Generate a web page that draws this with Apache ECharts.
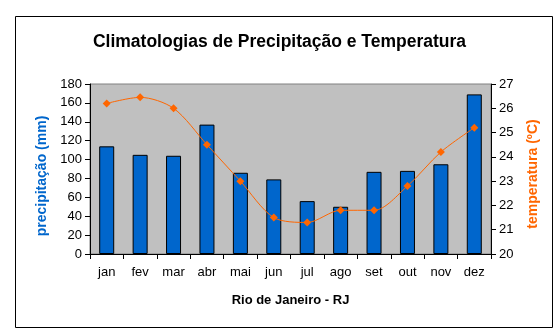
<!DOCTYPE html>
<html>
<head>
<meta charset="utf-8">
<script src="https://cdn.jsdelivr.net/npm/echarts@6/dist/echarts.min.js"></script>
<style>
html,body{margin:0;padding:0;background:#fff;}
#c{width:559px;height:335px;}
</style>
</head>
<body>
<div id="c"></div>
<script>
const months = ['jan','fev','mar','abr','mai','jun','jul','ago','set','out','nov','dez'];
const precip = [114, 105, 104, 137, 86, 79, 56, 50, 87, 88, 95, 169];
const temp = [26.2, 26.45, 26.0, 24.5, 23.0, 21.5, 21.3, 21.8, 21.8, 22.8, 24.2, 25.2];
const titleText = 'Climatologias de Precipitação e Temperatura';
const xName = 'Rio de Janeiro - RJ';
const yLeftName = 'precipitação (mm)';
const yRightName = 'temperatura (ºC)';

const FONT = '"Liberation Sans", Arial, sans-serif';
const chart = echarts.init(document.getElementById('c'), null, {renderer: 'canvas'});
chart.setOption({
  animation: false,
  backgroundColor: '#ffffff',
  title: {
    text: titleText,
    left: 'center',
    top: 28,
    textStyle: {fontFamily: FONT, fontSize: 17.5, fontWeight: 'bold', color: '#000'}
  },
  graphic: [{
    type: 'rect',
    shape: {x: 15.5, y: 16.5, width: 537, height: 311},
    style: {fill: 'none', stroke: '#000', lineWidth: 1},
    silent: true
  }],
  grid: {
    left: 90, right: 68, top: 84, bottom: 81,
    show: true, backgroundColor: '#C0C0C0', borderColor: '#808080', borderWidth: 1
  },
  xAxis: {
    type: 'category',
    data: months,
    boundaryGap: true,
    name: xName,
    nameLocation: 'middle',
    nameGap: 40,
    nameTextStyle: {fontFamily: FONT, fontSize: 13, fontWeight: 'bold', color: '#000'},
    axisLine: {lineStyle: {color: '#000', width: 1}},
    axisTick: {show: true, interval: 0, length: 5, lineStyle: {color: '#000'}},
    axisLabel: {interval: 0, margin: 12, fontFamily: FONT, fontSize: 13, color: '#000'},
    splitLine: {show: false}
  },
  yAxis: [{
    type: 'value',
    min: 0, max: 180, interval: 20,
    name: yLeftName,
    nameLocation: 'middle',
    nameGap: 40,
    nameTextStyle: {fontFamily: FONT, fontSize: 14, fontWeight: 'bold', color: '#0066CC', padding: [0, 14, 0, 0]},
    axisLine: {show: true, lineStyle: {color: '#000', width: 1}},
    axisTick: {show: true, length: 5, lineStyle: {color: '#000'}},
    axisLabel: {margin: 8, fontFamily: FONT, fontSize: 13, color: '#000'},
    splitLine: {show: false}
  }, {
    type: 'value',
    min: 20, max: 27, interval: 1,
    position: 'right',
    name: yRightName,
    nameLocation: 'middle',
    nameGap: 35,
    nameRotate: 90,
    nameTextStyle: {fontFamily: FONT, fontSize: 14, fontWeight: 'bold', color: '#FF6600', padding: [0, 10, 0, 0]},
    axisLine: {show: true, lineStyle: {color: '#000', width: 1}},
    axisTick: {show: true, length: 5, lineStyle: {color: '#000'}},
    axisLabel: {margin: 8, fontFamily: FONT, fontSize: 13, color: '#000'},
    splitLine: {show: false}
  }],
  series: [{
    type: 'bar',
    data: precip,
    yAxisIndex: 0,
    barWidth: 15,
    itemStyle: {color: '#0066CC', borderColor: '#000', borderWidth: 1}
  }, {
    type: 'line',
    data: temp,
    yAxisIndex: 1,
    smooth: 0.3,
    symbol: 'diamond',
    symbolSize: 8,
    lineStyle: {color: '#FF6600', width: 1},
    itemStyle: {color: '#FF6600'}
  }]
});
</script>
</body>
</html>
